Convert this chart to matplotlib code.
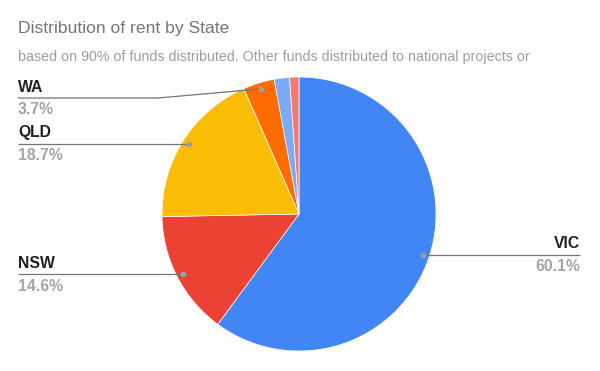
import numpy as np
import matplotlib
matplotlib.use("Agg")
from matplotlib import pyplot as plt

# slice data, clockwise from 12 o'clock
states = ['VIC', 'NSW', 'QLD', 'WA', 'Other 1', 'Other 2']
shares = [60.1, 14.6, 18.7, 3.7, 1.8, 1.1]
colors = ['#4285F4', '#EA4335', '#FBBC04', '#FF6D01', '#7BAAF7', '#F07B72']
labelled = ['VIC', 'NSW', 'QLD', 'WA']

W, H = 600, 371
fig = plt.figure(figsize=(W / 100, H / 100), dpi=100)
ax = fig.add_axes([0, 0, 1, 1])

cx, cy, R = 299, H - 214, 137
ax.pie(shares, colors=colors, startangle=90, counterclock=False,
       center=(cx, cy), radius=R,
       wedgeprops=dict(edgecolor='white', linewidth=0.5))
ax.set_xlim(0, W)
ax.set_ylim(0, H)
ax.set_aspect('equal')
ax.axis('off')

plt.rcParams['font.family'] = ['Liberation Sans', 'DejaVu Sans']

fig.text(18 / W, 1 - 28 / H, 'Distribution of rent by State', fontsize=12.6,
         color='#757575', va='center', ha='left')
fig.text(18 / W, 1 - 57 / H,
         'based on 90% of funds distributed. Other funds distributed to national projects or',
         fontsize=10.3, color='#9e9e9e', va='center', ha='left')

# label layout: side, elbow (x, y in pixels) or None
layout = {
    'VIC': ('right', None),
    'NSW': ('left', None),
    'QLD': ('left', None),
    'WA': ('left', (158, 98)),
}

total = sum(shares)
start = 0.0
for name, val in zip(states, shares):
    mid = start + val / total * 360 / 2
    start += val / total * 360
    if name not in labelled:
        continue
    th = np.radians(mid)
    px = cx + 0.955 * R * np.sin(th)
    py = cy + 0.955 * R * np.cos(th)
    side, elbow = layout[name]
    if side == 'right':
        ly = py
        xs, ys = [px, 580], [ly, ly]
        tx, ha = 580, 'right'
    else:
        if elbow is None:
            ly = py
            xs, ys = [18, px], [ly, ly]
        else:
            ly = H - elbow[1]
            xs, ys = [18, elbow[0], px], [ly, ly, py]
        tx, ha = 18, 'left'
    ax.plot(xs, ys, color='#757575', lw=0.9, solid_capstyle='butt')
    ax.plot(px, py, 'o', ms=4, color='#9e9e9e', mec='none')
    ax.text(tx, ly + 11, name, fontsize=11.3, fontweight='bold',
            color='#212121', ha=ha, va='center')
    ax.text(tx, ly - 12, f'{val:.1f}%', fontsize=11.3, fontweight='bold',
            color='#a3a3a3', ha=ha, va='center')

fig.savefig('out.png', dpi=100, facecolor='white')
